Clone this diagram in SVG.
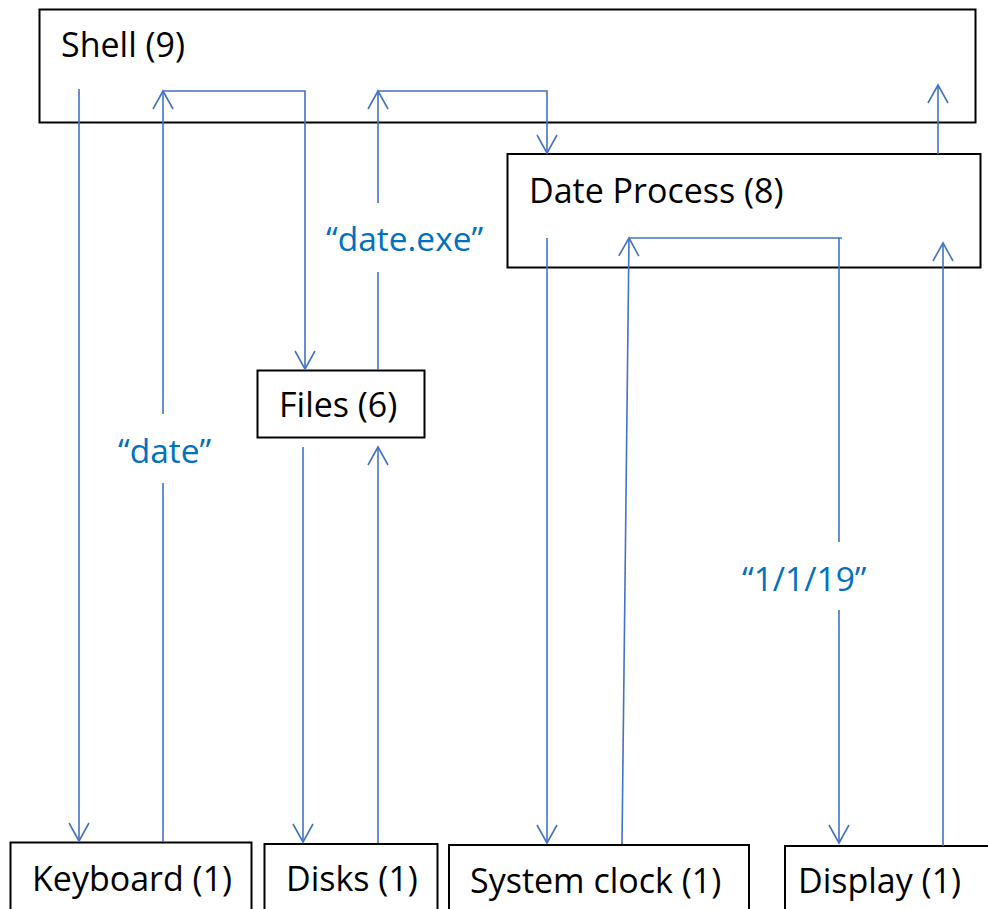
<svg xmlns="http://www.w3.org/2000/svg" width="988" height="909" viewBox="0 0 988 909">
  <style>
    .box { fill: #ffffff; stroke: #000000; stroke-width: 2; }
    .name { font-family: "Open Sans", "Liberation Sans", sans-serif; font-size: 34px; fill: #000000; }
    .wire { fill: none; stroke: #4472C4; stroke-width: 1.6; }
    .tag { font-family: "Open Sans", "Liberation Sans", sans-serif; font-size: 33.5px; fill: #0070C0; }
  </style>
  <defs>
    <marker id="head" markerUnits="userSpaceOnUse" markerWidth="24" markerHeight="24" refX="0" refY="0" orient="auto" overflow="visible">
      <path d="M-18,-10 L0,0 L-18,10" fill="none" stroke="#4472C4" stroke-width="1.6"/>
    </marker>
  </defs>

  <rect width="988" height="909" fill="#ffffff"/>

  <!-- nodes -->
  <g id="shell">
    <rect class="box" x="39.5" y="9.5" width="936" height="113"/>
    <text class="name" x="61" y="57">Shell (9)</text>
  </g>
  <g id="date-process">
    <rect class="box" x="507.5" y="154" width="473" height="113.5"/>
    <text class="name" x="529" y="203">Date Process (8)</text>
  </g>
  <g id="files">
    <rect class="box" x="257.5" y="370.5" width="167" height="67"/>
    <text class="name" x="279" y="417">Files (6)</text>
  </g>
  <g id="keyboard">
    <rect class="box" x="10.5" y="842.5" width="241" height="80"/>
    <text class="name" x="32" y="891">Keyboard (1)</text>
  </g>
  <g id="disks">
    <rect class="box" x="264.5" y="844" width="173" height="80"/>
    <text class="name" x="286" y="891">Disks (1)</text>
  </g>
  <g id="system-clock">
    <rect class="box" x="449" y="845" width="300" height="80"/>
    <text class="name" x="470" y="893">System clock (1)</text>
  </g>
  <g id="display">
    <rect class="box" x="785" y="846" width="230" height="80"/>
    <text class="name" x="798" y="893">Display (1)</text>
  </g>

  <!-- connectors -->
  <g id="connectors">
    <!-- shell to keyboard -->
    <path class="wire" d="M79,89 V841" marker-end="url(#head)"/>
    <!-- keyboard to shell, then shell to files -->
    <path class="wire" d="M163,842 V483"/>
    <path class="wire" d="M163,414 V91" marker-end="url(#head)"/>
    <path class="wire" d="M163,91 H305 V369" marker-end="url(#head)"/>
    <!-- files to shell, then shell to date process -->
    <path class="wire" d="M378,370 V272"/>
    <path class="wire" d="M378,203 V91" marker-end="url(#head)"/>
    <path class="wire" d="M378,91 H547 V153" marker-end="url(#head)"/>
    <!-- files to disks and back -->
    <path class="wire" d="M303,447 V842" marker-end="url(#head)"/>
    <path class="wire" d="M378,843 V447" marker-end="url(#head)"/>
    <!-- date process to system clock -->
    <path class="wire" d="M547,238 V843" marker-end="url(#head)"/>
    <!-- system clock to date process, then on to display -->
    <path class="wire" d="M622,844 L629,238" marker-end="url(#head)"/>
    <path class="wire" d="M629,238 H842"/>
    <path class="wire" d="M839,238 V542"/>
    <path class="wire" d="M839,610 V843" marker-end="url(#head)"/>
    <!-- display to date process -->
    <path class="wire" d="M943,846 V243" marker-end="url(#head)"/>
    <!-- date process to shell -->
    <path class="wire" d="M938,154 V85" marker-end="url(#head)"/>

    <text class="tag" x="118" y="463">“date”</text>
    <text class="tag" x="326" y="251">“date.exe”</text>
    <text class="tag" x="742" y="591">“1/1/19”</text>
  </g>
</svg>
